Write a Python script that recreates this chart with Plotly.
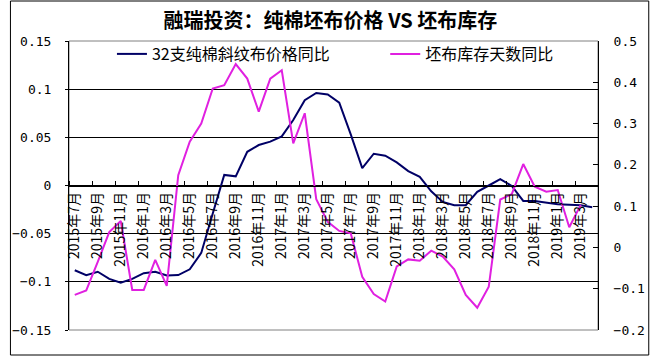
import plotly.graph_objects as go

months = ["2015年7月", "2015年8月", "2015年9月", "2015年10月", "2015年11月", "2015年12月",
          "2016年1月", "2016年2月", "2016年3月", "2016年4月", "2016年5月", "2016年6月",
          "2016年7月", "2016年8月", "2016年9月", "2016年10月", "2016年11月", "2016年12月",
          "2017年1月", "2017年2月", "2017年3月", "2017年4月", "2017年5月", "2017年6月",
          "2017年7月", "2017年8月", "2017年9月", "2017年10月", "2017年11月", "2017年12月",
          "2018年1月", "2018年2月", "2018年3月", "2018年4月", "2018年5月", "2018年6月",
          "2018年7月", "2018年8月", "2018年9月", "2018年10月", "2018年11月", "2018年12月",
          "2019年1月", "2019年2月", "2019年3月", "2019年4月"]

price_yoy = [-0.088, -0.093, -0.0895, -0.097, -0.101, -0.097, -0.091, -0.0895, -0.0935, -0.093,
             -0.087, -0.070, -0.029, 0.011, 0.0095, 0.035, 0.042, 0.0455, 0.051, 0.068,
             0.0885, 0.096, 0.0945, 0.086, 0.053, 0.018, 0.033, 0.031, 0.024, 0.015,
             0.009, -0.006, -0.017, -0.0205, -0.0205, -0.0065, 0.0, 0.0065, -0.0005, -0.016,
             -0.016, -0.018, -0.0195, -0.020, -0.0205, -0.0225]

stock_yoy = [-0.115, -0.104, -0.035, 0.037, 0.064, -0.103, -0.103, -0.030, -0.093, 0.175,
             0.256, 0.300, 0.385, 0.393, 0.444, 0.409, 0.329, 0.409, 0.429, 0.252,
             0.325, 0.117, 0.062, 0.040, 0.034, -0.071, -0.113, -0.131, -0.046, -0.029,
             -0.032, -0.008, -0.022, -0.053, -0.115, -0.146, -0.095, 0.116, 0.129, 0.202,
             0.147, 0.135, 0.139, 0.049, 0.103, None]

series_names = ["32支纯棉斜纹布价格同比", "坯布库存天数同比"]
title_text = "融瑞投资：纯棉坯布价格 VS 坯布库存"

x_idx = list(range(len(months)))
tick_pos = x_idx[::2]
tick_text = months[::2]

CJK = "Noto Sans CJK SC"
MONO = "DejaVu Sans Mono"

fig = go.Figure()
fig.add_trace(go.Scatter(x=x_idx, y=price_yoy, mode="lines", name=series_names[0],
                         line=dict(color="#000066", width=2), legend="legend", showlegend=True))
fig.add_trace(go.Scatter(x=x_idx, y=stock_yoy, mode="lines", name=series_names[1],
                         line=dict(color="#E020E0", width=2), yaxis="y2", legend="legend2",
                         showlegend=True))

W, H = 657, 357
L, R, T, B = 61, 54, 41, 27
pw, ph = W - L - R, H - T - B

fig.update_layout(
    width=W, height=H,
    showlegend=True,
    margin=dict(l=L, r=R, t=T, b=B, pad=0),
    paper_bgcolor="white", plot_bgcolor="white",
    font=dict(family=CJK, color="black"),
    title=dict(text="<b>" + title_text + "</b>", font=dict(family=CJK, size=20, color="black"),
               x=0.503, xref="container", xanchor="center",
               y=1 - 21 / H, yref="container", yanchor="middle"),
    xaxis=dict(range=[-0.5, len(months) - 0.5], anchor="free", position=0.5,
               showline=True, linecolor="black", linewidth=1,
               tickmode="array", tickvals=tick_pos, ticktext=tick_text, tickangle=-90,
               ticks="", tickfont=dict(family=CJK, size=14, color="black"),
               showgrid=False, zeroline=False,
               minor=dict(tickmode="linear", tick0=-0.5, dtick=2, ticks="inside",
                          ticklen=5, tickcolor="black", tickwidth=1, showgrid=False)),
    yaxis=dict(range=[-0.15, 0.15], tickmode="linear", tick0=0, dtick=0.05,
               showline=True, linecolor="black", linewidth=1,
               ticks="outside", ticklen=3, tickcolor="black",
               showgrid=True, gridcolor="black", gridwidth=1, zeroline=False,
               tickfont=dict(family=MONO, size=13, color="black"), ticklabelstandoff=11),
    yaxis2=dict(range=[-0.2, 0.5], tickmode="linear", tick0=0, dtick=0.1,
                overlaying="y", side="right", anchor="x",
                showline=True, linecolor="black", linewidth=1,
                ticks="inside", ticklen=5, tickcolor="black",
                showgrid=False, zeroline=False,
                tickfont=dict(family=MONO, size=13, color="black"), ticklabelstandoff=12),
    legend=dict(x=(105 - L) / pw, y=(H - B - 54) / ph, xanchor="left", yanchor="middle",
                orientation="h", bgcolor="rgba(0,0,0,0)", borderwidth=0,
                font=dict(family=CJK, size=16, color="black")),
    legend2=dict(x=(385 - L) / pw, y=(H - B - 54) / ph, xanchor="left", yanchor="middle",
                 orientation="h", bgcolor="rgba(0,0,0,0)", borderwidth=0,
                 font=dict(family=CJK, size=16, color="black")),
    shapes=[
        dict(type="rect", xref="paper", yref="paper", x0=0, x1=1, y0=0, y1=1,
             line=dict(color="#808080", width=1), layer="below"),
        dict(type="rect", xref="paper", yref="paper",
             x0=(1 - L) / pw, x1=(W - 2 - L) / pw,
             y0=-(B - 2) / ph, y1=1 + (T - 1) / ph,
             line=dict(color="black", width=1), layer="below"),
    ],
)

fig.write_html("out.html", config={"displayModeBar": False},
               post_script="document.body.style.margin='0';document.body.style.overflow='hidden';")
